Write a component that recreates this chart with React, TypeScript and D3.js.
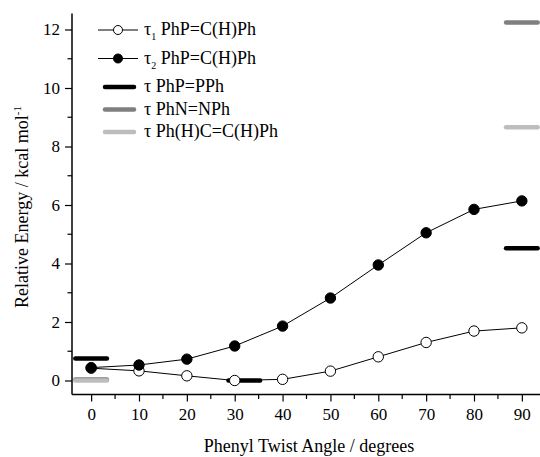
import React, { useEffect, useRef } from "react";
import * as d3 from "d3";

// twist angles (degrees)
const angles = [0, 10, 20, 30, 40, 50, 60, 70, 80, 90];
// tau1 PhP=C(H)Ph, open circles
const tau1 = [0.42, 0.33, 0.16, 0.0, 0.04, 0.32, 0.81, 1.3, 1.69, 1.8];
// tau2 PhP=C(H)Ph, filled circles
const tau2 = [0.44, 0.53, 0.73, 1.18, 1.86, 2.82, 3.95, 5.05, 5.85, 6.14];

// reference molecules: short horizontal bars at [angle, energy]
const barNames = ["PhP=PPh", "PhN=NPh", "Ph(H)C=C(H)Ph"];
const barColors = ["#000000", "#7f7f7f", "#bdbdbd"];
const barAngles = [
  [0, 32, 90],
  [0, 90],
  [0, 90],
];
const barEnergies = [
  [0.75, 0.0, 4.52],
  [0.03, 12.24],
  [0.0, 8.66],
];

const xTicks = [0, 10, 20, 30, 40, 50, 60, 70, 80, 90];
const yTicks = [0, 2, 4, 6, 8, 10, 12];

const font = "'Liberation Serif', 'Times New Roman', serif";

export default function App() {
  const ref = useRef<SVGSVGElement>(null);

  useEffect(() => {
    const svg = d3.select(ref.current);
    svg.selectAll("*").remove();

    const x = d3.scaleLinear().domain([-4, 94]).range([72, 541]);
    const y = d3.scaleLinear().domain([0, 12]).range([380.5, 29.5]);
    const yBottom = 394.5;

    // x axis
    const xAxis = d3
      .axisBottom(x)
      .tickValues(xTicks)
      .tickSize(7)
      .tickPadding(6)
      .tickFormat(d3.format("d"));
    const gx = svg.append("g").attr("transform", `translate(0,${yBottom})`).call(xAxis);
    gx.select(".domain").attr("d", `M${x(-4)},0H${x(94)}`).attr("stroke-width", 1.5);
    gx.selectAll(".tick line").attr("stroke-width", 1.2);
    gx.selectAll("text").style("font-family", font).style("font-size", "17px").attr("fill", "#000");

    const xMinor = d3.range(5, 95, 10);
    svg
      .append("g")
      .selectAll("line")
      .data(xMinor)
      .enter()
      .append("line")
      .attr("x1", (d) => x(d))
      .attr("x2", (d) => x(d))
      .attr("y1", yBottom)
      .attr("y2", yBottom + 4.5)
      .attr("stroke", "#000")
      .attr("stroke-width", 1.2);

    // y axis
    const yAxis = d3
      .axisLeft(y)
      .tickValues(yTicks)
      .tickSize(7)
      .tickPadding(5);
    const gy = svg.append("g").attr("transform", `translate(${x(-4)},0)`).call(yAxis);
    gy.select(".domain").attr("d", `M0,${yBottom}V${y(12.55)}`).attr("stroke-width", 1.5);
    gy.selectAll(".tick line").attr("stroke-width", 1.2);
    gy.selectAll("text").style("font-family", font).style("font-size", "17px").attr("fill", "#000");

    const yMinor = [1, 3, 5, 7, 9, 11];
    svg
      .append("g")
      .selectAll("line")
      .data(yMinor)
      .enter()
      .append("line")
      .attr("x1", x(-4))
      .attr("x2", x(-4) - 4.5)
      .attr("y1", (d) => y(d))
      .attr("y2", (d) => y(d))
      .attr("stroke", "#000")
      .attr("stroke-width", 1.2);

    // axis titles
    svg
      .append("text")
      .attr("x", 309)
      .attr("y", 452)
      .attr("text-anchor", "middle")
      .style("font-family", font)
      .style("font-size", "18px")
      .text("Phenyl Twist Angle / degrees");

    const yl = svg
      .append("text")
      .attr("transform", "translate(28,207) rotate(-90)")
      .attr("text-anchor", "middle")
      .style("font-family", font)
      .style("font-size", "18px");
    yl.append("tspan").text("Relative Energy / kcal mol");
    yl.append("tspan").attr("dy", -7).style("font-size", "11px").text("-1");

    // reference bars
    barNames.forEach((name, i) => {
      svg
        .append("g")
        .selectAll("line")
        .data(barAngles[i].map((a, j) => [a, barEnergies[i][j]]))
        .enter()
        .append("line")
        .attr("x1", (d) => x(d[0] - 3.3))
        .attr("x2", (d) => x(d[0] + 3.3))
        .attr("y1", (d) => y(d[1]))
        .attr("y2", (d) => y(d[1]))
        .attr("stroke", barColors[i])
        .attr("stroke-width", 4.5)
        .attr("stroke-linecap", "round");
    });

    // series lines + markers
    const line = d3
      .line<number>()
      .x((d, i) => x(angles[i]))
      .y((d) => y(d));

    const series = [
      { values: tau1, fill: "#fff" },
      { values: tau2, fill: "#000" },
    ];

    series.forEach((s) => {
      svg
        .append("path")
        .datum(s.values)
        .attr("d", line)
        .attr("fill", "none")
        .attr("stroke", "#000")
        .attr("stroke-width", 1);
    });
    series.forEach((s) => {
      svg
        .append("g")
        .selectAll("circle")
        .data(s.values)
        .enter()
        .append("circle")
        .attr("cx", (d, i) => x(angles[i]))
        .attr("cy", (d) => y(d))
        .attr("r", 5.2)
        .attr("fill", s.fill)
        .attr("stroke", "#000")
        .attr("stroke-width", 1);
    });

    // legend
    const legend = svg.append("g");
    const rows = [30, 58.5, 87, 109.5, 132];
    const textX = 144;

    [
      { fill: "#fff", sub: "1" },
      { fill: "#000", sub: "2" },
    ].forEach((item, i) => {
      legend
        .append("line")
        .attr("x1", 98)
        .attr("x2", 138)
        .attr("y1", rows[i])
        .attr("y2", rows[i])
        .attr("stroke", "#000")
        .attr("stroke-width", 1);
      legend
        .append("circle")
        .attr("cx", 118)
        .attr("cy", rows[i])
        .attr("r", 4.5)
        .attr("fill", item.fill)
        .attr("stroke", "#000");
      const t = legend
        .append("text")
        .attr("x", textX)
        .attr("y", rows[i] + 5)
        .style("font-family", font)
        .style("font-size", "18px");
      t.append("tspan").text("\u03c4");
      t.append("tspan").attr("dy", 5).style("font-size", "10px").text(item.sub);
      t.append("tspan").attr("dy", -5).text(" PhP=C(H)Ph");
    });

    barNames.forEach((name, i) => {
      const r = rows[i + 2];
      legend
        .append("line")
        .attr("x1", 105)
        .attr("x2", 134)
        .attr("y1", r)
        .attr("y2", r)
        .attr("stroke", barColors[i])
        .attr("stroke-width", 4.5)
        .attr("stroke-linecap", "round");
      legend
        .append("text")
        .attr("x", textX)
        .attr("y", r + 5)
        .style("font-family", font)
        .style("font-size", "18px")
        .text("\u03c4 " + name);
    });
  }, []);

  return (
    <svg
      ref={ref}
      width={540}
      height={457}
      style={{ position: "absolute", left: 0, top: 0, background: "#fff" }}
    />
  );
}
